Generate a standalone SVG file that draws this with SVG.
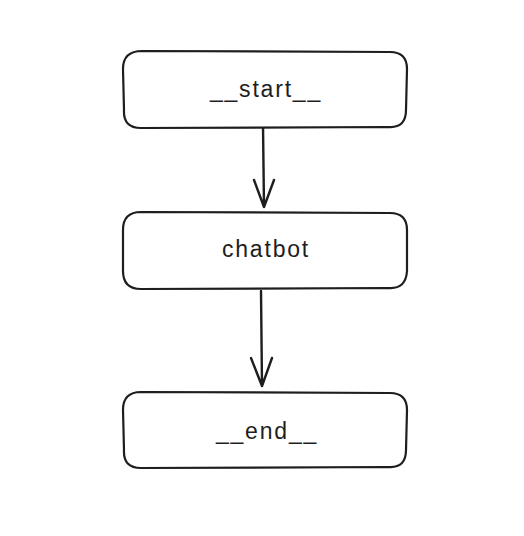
<svg xmlns="http://www.w3.org/2000/svg" width="524" height="536" viewBox="0 0 524 536">
<defs>
<style>
.box{fill:#ffffff;stroke:#1e1e1e;stroke-width:2.2;stroke-linejoin:round}
.lbl{font-family:"Liberation Sans","DejaVu Sans",sans-serif;font-size:23px;letter-spacing:1.8px;fill:#1e1e1e;text-anchor:middle;dominant-baseline:central}
.edge{fill:none;stroke:#1e1e1e;stroke-width:2.4;stroke-linecap:round;stroke-linejoin:round}
</style>
</defs>
<rect width="524" height="536" fill="#ffffff"/>
<g id="connectors">
<path class="edge" d="M263 125 L264 207 M254 180 L264 207 L274 180"/>
<path class="edge" d="M261 291 L262 386 M251 358 L262 386 L272 358"/>
</g>
<g id="node-start">
<path class="box" d="M142 51 L390 52 Q407 52 407 69 L406 110 Q406 128 389 127 L141 128 Q123 128 124 110 L123 69 Q123 51 142 51 Z"/>
<text class="lbl" x="266" y="89">__start__</text>
</g>
<g id="node-chatbot">
<path class="box" d="M141 212 L390 213 Q407 213 407 230 L407 271 Q406 289 389 288 L141 289 Q123 289 123 271 L123 230 Q123 212 141 212 Z"/>
<text class="lbl" x="266" y="249">chatbot</text>
</g>
<g id="node-end">
<path class="box" d="M141 392 L390 393 Q407 393 407 410 L406 450 Q406 468 389 467 L141 468 Q123 468 124 450 L123 410 Q123 392 141 392 Z"/>
<text class="lbl" x="267" y="431">__end__</text>
</g>
</svg>
